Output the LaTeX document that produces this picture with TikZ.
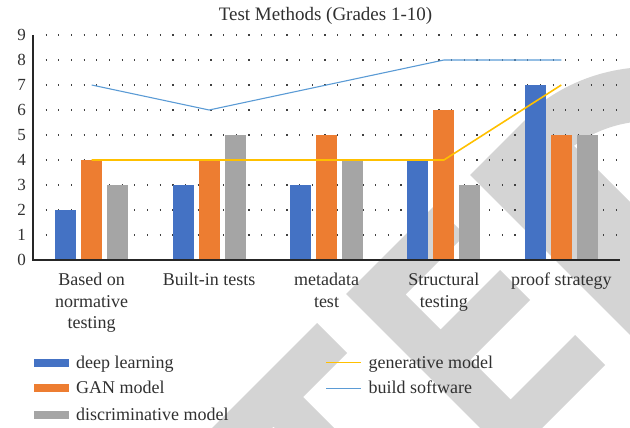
\documentclass[tikz,border=0pt]{standalone}
\usepackage{fontspec}
\setmainfont{Liberation Serif}
\definecolor{dlblue}{HTML}{4472C4}
\definecolor{ganorange}{HTML}{ED7D31}
\definecolor{discgray}{HTML}{A5A5A5}
\definecolor{genyellow}{HTML}{FFC000}
\definecolor{buildblue}{HTML}{5B9BD5}
\definecolor{wmgray}{HTML}{D4D4D4}
\definecolor{txtc}{HTML}{303030}
\definecolor{dotc}{HTML}{404040}
\begin{document}
\begin{tikzpicture}[x=1pt,y=-1pt,
  lbl/.style={font=\fontsize{18}{21.7}\selectfont, text=txtc, inner sep=0pt},
  num/.style={font=\fontsize{17}{20}\selectfont, text=txtc, inner sep=0pt, anchor=east},
  gridline/.style={line width=1.1pt, draw=dotc, dash pattern=on 1.1pt off 11.57pt},
  axisline/.style={line width=1.5pt, draw=black!85},
  serline/.style={line width=1.3pt}]
\useasboundingbox (0,0) rectangle (630,428);
% watermark
\begin{scope}
\clip (0,0) rectangle (630,428);
\fill[wmgray] (720,425) -- (470,175) -- (545,100)
  -- plot[domain=-125:-80,samples=30] ({650+183*cos(\x)},{250+183*sin(\x)})
  -- plot[domain=-80:-126.17,samples=30] ({650+129*cos(\x)},{250+129*sin(\x)})
  -- (800,372) -- cycle;
\fill[wmgray] (346,294) -- (435,205) -- (465,235) -- (405.5,294.5) -- (440.5,329.5)
  -- (500,270) -- (530,300) -- (470.5,359.5) -- (510.5,399.5) -- (575,335)
  -- (605,365) -- (540.5,429.5) -- (755.5,644.5) -- (726,674) -- cycle;
\fill[wmgray] (317,323) -- (347,353) -- (303,397) -- (503,597) -- (473.5,626.5)
  -- (273.5,426.5) -- (150,550) -- (120,520) -- cycle;
\end{scope}
% grid
\foreach \v in {1,...,9}{
  \draw[gridline] (45.7,{260-25*\v}) -- (620,{260-25*\v});
}
% bars
\foreach \i/\a/\b/\c in {1/2/4/3, 2/3/4/5, 3/3/5/4, 4/4/6/3, 5/7/5/5}{
  \pgfmathsetmacro\cx{33+117.4*(\i-0.5)}
  \fill[dlblue] ({\cx-36.5},260) rectangle ({\cx-15.5},{260-25*\a});
  \fill[ganorange] ({\cx-10.5},260) rectangle ({\cx+10.5},{260-25*\b});
  \fill[discgray] ({\cx+15.5},260) rectangle ({\cx+36.5},{260-25*\c});
}
% axes
\coordinate (ytop) at (33,35);
\coordinate (orig) at (33,260);
\coordinate (xend) at (620,260);
\draw[axisline] (ytop) -- (orig) -- (xend);
% y labels
\foreach \v in {0,...,9}{
  \node[num] (y\v) at (26,{260-25*\v}) {\v};
}
% series lines
\coordinate (b1) at (91.7,85);
\coordinate (b2) at (209.1,110);
\coordinate (b3) at (326.5,85);
\coordinate (b4) at (443.9,60);
\coordinate (b5) at (561.3,60);
\coordinate (g1) at (91.7,160);
\coordinate (g2) at (209.1,160);
\coordinate (g3) at (326.5,160);
\coordinate (g4) at (443.9,160);
\coordinate (g5) at (561.3,85);
\draw[serline, buildblue, line width=1.1pt] (b1) -- (b2) -- (b3) -- (b4) -- (b5);
\draw[serline, genyellow, line width=1.6pt] (g1) -- (g2) -- (g3) -- (g4) -- (g5);
% title
\node[lbl, anchor=base, font=\fontsize{19}{22}\selectfont] (title) at (325.5,20.7) {Test Methods (Grades 1-10)};
% category labels
\node[lbl, anchor=north, align=center] (c1) at (91.7,272.7) {Based on\\normative\\testing};
\node[lbl, anchor=north, align=center] (c2) at (209.1,272.7) {Built-in tests};
\node[lbl, anchor=north, align=center] (c3) at (326.5,272.7) {metadata\\test};
\node[lbl, anchor=north, align=center] (c4) at (443.9,272.7) {Structural\\testing};
\node[lbl, anchor=north, align=center] (c5) at (561.3,272.7) {proof strategy};
% legend
\fill[dlblue] (34,359.3) rectangle (69,367.3);
\fill[ganorange] (34,384) rectangle (69,392);
\fill[discgray] (34,410.7) rectangle (69,418.7);
\node[lbl, anchor=base west] (l1) at (76,368.8) {deep learning};
\node[lbl, anchor=base west] (l2) at (76,393.5) {GAN model};
\node[lbl, anchor=base west] (l3) at (76,420.2) {discriminative model};
\coordinate (ga) at (326,362.7);
\coordinate (gb) at (361,362.7);
\coordinate (ba) at (326,388.3);
\coordinate (bb) at (361,388.3);
\draw[genyellow, line width=1.3pt] (ga) -- (gb);
\draw[buildblue, line width=1.3pt] (ba) -- (bb);
\node[lbl, anchor=base west] (l4) at (368.5,368.2) {generative model};
\node[lbl, anchor=base west] (l5) at (368.5,393.8) {build software};
\end{tikzpicture}
\end{document}
